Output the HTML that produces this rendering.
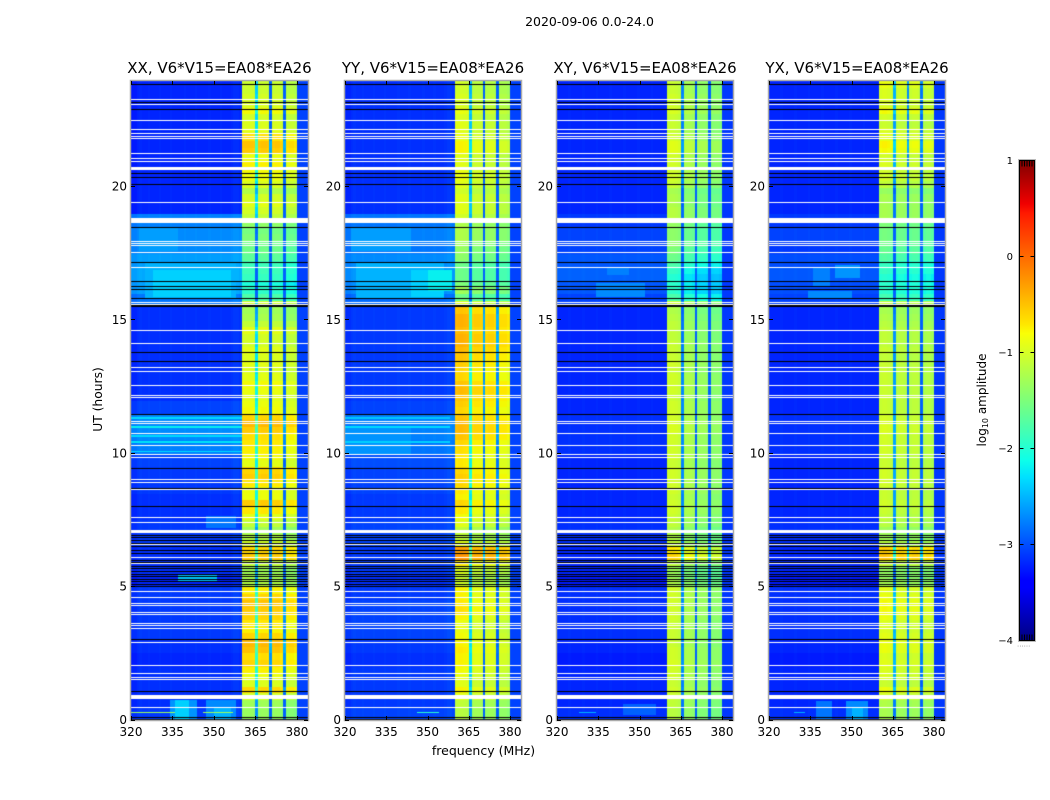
<!DOCTYPE html>
<html>
<head>
<meta charset="utf-8">
<title>2020-09-06 spectrogram</title>
<style>
html,body{margin:0;padding:0;background:#fff;}
#figure{position:relative;width:1050px;height:800px;overflow:hidden;background:#fff;}
canvas{position:absolute;display:block;}
svg{position:absolute;left:0;top:0;}
text{font-family:"DejaVu Sans","Liberation Sans",sans-serif;fill:#000;}
</style>
</head>
<body>
<div id="figure">
<svg id="overlay" width="1050" height="800" viewBox="0 0 1050 800" xmlns="http://www.w3.org/2000/svg">
  <defs>
    <linearGradient id="jet" x1="0" y1="1" x2="0" y2="0">
      <stop offset="0" stop-color="#000080"/>
      <stop offset="0.11" stop-color="#0000ff"/>
      <stop offset="0.125" stop-color="#0000ff"/>
      <stop offset="0.34" stop-color="#00e0ff"/>
      <stop offset="0.375" stop-color="#0dffea"/>
      <stop offset="0.5" stop-color="#7dff7a"/>
      <stop offset="0.64" stop-color="#faff05"/>
      <stop offset="0.66" stop-color="#ffe600"/>
      <stop offset="0.89" stop-color="#ff1a00"/>
      <stop offset="0.91" stop-color="#f00000"/>
      <stop offset="1" stop-color="#800000"/>
    </linearGradient>
  </defs>
  <text x="589.5" y="26" font-size="12.5" text-anchor="middle">2020-09-06 0.0-24.0</text>
  <text x="98" y="399.5" font-size="12.3" text-anchor="middle" transform="rotate(-90 98 399.5)" dominant-baseline="central">UT (hours)</text>
  <text x="483.5" y="755" font-size="12.5" text-anchor="middle">frequency (MHz)</text>
  <g id="colorbar">
    <rect x="1019.5" y="160.5" width="15" height="480" fill="url(#jet)"/>
    <rect x="1019.5" y="160.5" width="15" height="480" fill="none" stroke="#000" stroke-width="1"/>
    <rect x="1018.5" y="159.5" width="17" height="482" fill="none" stroke="#bbb" stroke-width="1"/>
    <text x="982" y="400" font-size="12" text-anchor="middle" transform="rotate(-90 982 400)" dominant-baseline="central">log<tspan font-size="8" dy="3">10</tspan><tspan dy="-3"> amplitude</tspan></text>
    <text x="1017" y="646.5" font-size="7" fill="#888" text-anchor="start" style="fill:#888">......</text>
  </g>
</svg>
</div>
<script>
// ---- data: rows are 0.25 h, amplitude in the occupied band (log10)
const rfiXX = [
 -1.35,-1.35,-1.3,-1.0,-0.6,-0.95,-0.85,-0.75,-0.6,-0.65,-0.5,-0.45,
 -0.6,-0.75,-0.7,-0.6,-0.55,-0.5,-0.6,-0.75,-1.2,-1.25,-1.3,-1.1,
 -0.55,-0.6,-1.0,-1.2,-1.3,-1.1,-0.9,-0.7,-0.55,-0.85,-0.85,-0.7,
 -0.55,-0.6,-0.9,-0.8,-0.75,-0.7,-0.65,-0.55,-0.45,-0.6,-0.8,-0.85,
 -0.9,-0.85,-0.8,-0.9,-0.95,-0.9,-0.95,-0.9,-1.0,-1.0,-0.9,-1.1,
 -1.25,-1.3,-1.0,-1.8,-2.0,-2.1,-1.95,-1.9,-1.9,-1.7,-1.6,-1.6,
 -1.5,-1.55,-1.4,-1.1,-1.0,-0.9,-1.0,-1.2,-0.95,-0.85,-0.8,-0.75,
 -0.85,-0.55,-0.5,-0.65,-0.9,-0.95,-1.0,-0.8,-0.95,-1.0,-1.05,-1.05];
const rfiYY = [
 -1.25,-1.25,-1.2,-1.0,-0.85,-1.0,-0.95,-0.9,-0.85,-0.85,-0.8,-0.85,
 -0.9,-0.95,-0.95,-0.85,-0.75,-0.8,-0.85,-0.85,-1.1,-1.15,-1.05,-0.8,
 -0.35,-0.4,-1.0,-1.2,-1.2,-1.0,-0.9,-0.8,-0.7,-0.85,-0.8,-0.7,
 -0.65,-0.7,-0.8,-0.8,-0.75,-0.7,-0.6,-0.55,-0.55,-0.6,-0.7,-0.65,
 -0.6,-0.55,-0.6,-0.7,-0.7,-0.65,-0.6,-0.55,-0.5,-0.5,-0.55,-0.5,
 -0.5,-0.6,-1.0,-1.7,-1.4,-1.6,-1.7,-1.7,-1.7,-1.5,-1.45,-1.4,
 -1.3,-1.3,-1.3,-1.1,-1.0,-1.0,-1.0,-1.1,-1.0,-0.95,-0.95,-1.0,
 -1.0,-0.85,-0.85,-0.95,-1.0,-1.0,-1.05,-0.95,-1.05,-1.05,-1.1,-1.1];
const rfiXY = [
 -1.35,-1.35,-1.3,-1.25,-1.2,-1.25,-1.2,-1.2,-1.15,-1.2,-1.2,-1.25,
 -1.25,-1.25,-1.25,-1.2,-1.2,-1.2,-1.2,-1.2,-1.4,-1.5,-1.5,-1.3,
 -0.8,-0.9,-1.3,-1.4,-1.4,-1.3,-1.25,-1.2,-1.2,-1.25,-1.2,-1.2,
 -1.2,-1.2,-1.25,-1.2,-1.2,-1.2,-1.2,-1.15,-1.15,-1.2,-1.2,-1.2,
 -1.25,-1.2,-1.2,-1.2,-1.25,-1.2,-1.25,-1.25,-1.25,-1.3,-1.3,-1.3,
 -1.35,-1.4,-1.2,-2.0,-2.2,-2.2,-2.25,-2.15,-2.0,-1.8,-1.7,-1.6,
 -1.6,-1.6,-1.55,-1.35,-1.35,-1.4,-1.4,-1.45,-1.25,-1.2,-1.2,-1.2,
 -1.2,-1.1,-1.1,-1.2,-1.25,-1.25,-1.25,-1.15,-1.2,-1.2,-1.25,-1.25];
const rfiYX = [
 -1.3,-1.3,-1.25,-1.05,-0.9,-1.1,-1.0,-1.0,-0.95,-1.0,-0.9,-0.9,
 -0.95,-1.0,-1.0,-0.9,-0.85,-0.85,-0.9,-0.95,-1.3,-1.4,-1.4,-1.1,
 -0.55,-0.6,-1.2,-1.35,-1.35,-1.2,-1.15,-1.1,-1.05,-1.1,-1.1,-1.05,
 -1.05,-1.05,-1.1,-1.1,-1.05,-1.05,-1.05,-1.0,-1.0,-1.05,-1.1,-1.1,
 -1.1,-1.1,-1.1,-1.1,-1.1,-1.1,-1.15,-1.1,-1.15,-1.15,-1.15,-1.2,
 -1.25,-1.3,-1.1,-1.9,-2.05,-2.05,-2.1,-2.0,-2.0,-1.8,-1.7,-1.65,
 -1.6,-1.6,-1.55,-1.3,-1.3,-1.3,-1.3,-1.4,-1.15,-1.05,-1.05,-1.0,
 -1.05,-0.85,-0.8,-0.95,-1.0,-1.1,-1.05,-0.85,-1.0,-1.0,-1.0,-0.9];

// rows are 0.5 h, background amplitude outside the occupied band (log10)
const lowXX = [
 -3.1,-3.15,-3.15,-3.15,-3.2,-3.15,-3.1,-3.1,-3.1,-3.1,-3.2,-3.15,
 -3.15,-3.1,-3.1,-3.15,-3.15,-3.1,-3.1,-3.05,-2.75,-2.7,-2.7,-3.05,
 -3.15,-3.15,-3.15,-3.15,-3.15,-3.15,-3.15,-2.8,-2.6,-2.55,-2.6,-2.7,
 -2.7,-2.75,-3.2,-3.2,-3.2,-3.2,-3.2,-3.2,-3.2,-3.2,-3.2,-3.2];
const lowYY = [
 -3.05,-3.1,-3.1,-3.1,-3.15,-3.1,-3.05,-3.05,-3.05,-3.1,-3.15,-3.1,
 -3.1,-3.05,-3.05,-3.1,-3.1,-3.05,-3.05,-3.0,-2.8,-2.75,-2.75,-3.05,
 -3.1,-3.1,-3.1,-3.1,-3.1,-3.1,-3.1,-2.85,-2.7,-2.65,-2.7,-2.8,
 -2.75,-2.8,-3.15,-3.15,-3.15,-3.15,-3.15,-3.15,-3.15,-3.15,-3.15,-3.15];
const lowXY = [
 -3.15,-3.2,-3.2,-3.2,-3.25,-3.2,-3.15,-3.15,-3.15,-3.15,-3.25,-3.2,
 -3.2,-3.15,-3.15,-3.2,-3.2,-3.2,-3.2,-3.2,-3.15,-3.15,-3.15,-3.2,
 -3.2,-3.2,-3.2,-3.2,-3.2,-3.2,-3.2,-3.05,-2.95,-2.9,-2.95,-3.05,
 -3.05,-3.1,-3.2,-3.2,-3.2,-3.2,-3.2,-3.2,-3.2,-3.2,-3.2,-3.2];
const lowYX = [
 -3.15,-3.2,-3.2,-3.2,-3.25,-3.2,-3.15,-3.15,-3.15,-3.15,-3.25,-3.2,
 -3.2,-3.15,-3.15,-3.2,-3.2,-3.2,-3.2,-3.2,-3.15,-3.15,-3.15,-3.2,
 -3.2,-3.2,-3.2,-3.2,-3.2,-3.2,-3.2,-3.05,-3.0,-2.95,-3.0,-3.1,
 -3.05,-3.1,-3.2,-3.2,-3.2,-3.2,-3.2,-3.2,-3.2,-3.2,-3.2,-3.2];

// background level of the four channels above the occupied band
const edgeLevels = [-3.05,-3.05,-3.1,-3.1];

// per-channel offsets (320-380 MHz, 1 MHz channels)
const channelsXX = [
 -.05,-.05,0,.02,0,0,.02,0,0,0,.02,0,0,0,.02,0,0,0,0,.02,
 0,0,0,.02,0,0,0,0,.02,0,0,0,.02,0,0,0,.02,.05,.05,.02,
 .02,.03,.03,.02,0,-1.3,0,.03,.03,0,-2.0,0,.02,.02,-.05,-2.0,-.12,-.1,-.1,-.15];
const channelsYY = [
 -.05,-.05,0,.02,0,0,.02,0,0,0,.02,0,0,0,.02,0,0,0,0,.02,
 0,0,0,.02,0,0,0,0,.02,0,0,0,.02,0,0,0,.02,.05,.05,.02,
 .1,.12,.12,.1,.08,-1.4,-.05,-.02,-.02,-.05,-2.0,-.08,-.05,-.05,-.1,-2.0,-.12,-.12,-.12,-.18];
const channelsXY = [
 0,0,0,0,.02,0,0,0,0,.02,0,0,0,0,.02,0,0,0,0,.02,
 0,0,0,0,.02,0,0,0,0,.02,0,0,0,0,.02,0,0,0,0,0,
 .2,.22,.22,.2,.15,-1.5,-.02,0,0,-.05,-1.7,-.15,-.12,-.12,-.15,-1.7,-.2,-.18,-.18,-.22];
const channelsYX = [
 0,0,0,0,.02,0,0,0,0,.02,0,0,0,0,.02,0,0,0,0,.02,
 0,0,0,0,.02,0,0,0,0,.02,0,0,0,0,.02,0,0,0,0,0,
 .05,.08,.08,.05,0,-1.5,-.05,0,0,-.05,-1.7,-.05,0,0,-.05,-1.8,-.1,-.05,-.05,-.12];

// localised features: [hourStart, hourEnd, channelStart, channelEnd, level]
const featuresXX = [
 [0,0.75,14,24,-2.65],[0,0.75,16,21,-2.35],[0,0.75,27,38,-2.7],[0.05,0.5,30,36,-2.5],
 [0.27,0.31,0,16,-1.3],[0.27,0.31,26,37,-1.3],
 [5.2,5.45,17,31,-2.4],[7.2,7.65,27,38,-2.8],
 [15.8,17.2,5,38,-2.5],[15.9,16.9,8,36,-2.35],[17.6,18.5,3,17,-2.6],
 [10.05,10.12,0,40,-2.3],[10.4,10.47,0,40,-2.25],[10.62,10.7,0,40,-2.3],[10.95,11.03,0,40,-2.2],[11.3,11.38,0,40,-2.3]];
const featuresYY = [
 [0.27,0.31,26,34,-2.0],
 [17.6,18.5,2,24,-2.6],[15.8,17.2,4,36,-2.5],[15.9,16.9,24,36,-2.35],[16.1,16.9,30,39,-2.2],
 [10,11,0,24,-2.65],[10.4,10.47,0,38,-2.35],[10.95,11.03,0,38,-2.3],[11.3,11.38,0,38,-2.4]];
const featuresXY = [
 [0.2,0.6,24,36,-2.9],[16.7,17.0,18,26,-2.75],[15.9,16.4,14,32,-2.7],[0.27,0.31,8,14,-2.5]];
const featuresYX = [
 [0,0.7,17,23,-2.8],[0,0.7,28,36,-2.7],[0.05,0.5,30,34,-2.5],
 [16.3,17,16,22,-2.75],[16.6,17.1,24,33,-2.65],[15.8,16.1,14,30,-2.7],[0.27,0.31,9,13,-2.5]];

// flagged rows, in hours
const whiteLines = [
 23.31,23.12,22.52,22.18,22.03,21.93,21.87,21.28,21.09,21.0,19.46,18.0,17.9,17.83,17.56,17.02,
 15.69,15.61,14.63,14.15,13.24,13.1,12.59,12.22,12.13,11.24,11.15,10.79,10.32,9.98,9.89,9.06,
 8.93,8.67,7.61,7.42,6.6,6.11,5.88,4.86,4.63,4.38,4.31,4.07,3.97,3.65,3.58,3.44,2.92,2.08,1.75,
 1.63,1.54,0.48];
const whiteBands = [[20.65,20.78],[18.65,18.86],[7.02,7.13],[0.78,0.93]];
const blackLines = [
 23.88,23.2,22.93,20.53,20.4,20.15,18.5,17.19,16.49,16.31,16.17,15.86,13.81,13.47,11.48,9.45,8.72,8.02,
 6.96,6.86,6.76,6.66,6.53,6.38,6.28,6.01,5.93,5.78,5.7,5.6,5.5,5.41,5.31,5.22,5.12,5.03,3.03,1.08,0.12,0.05];
const blackBands = [[15.5,15.58]];

const panelNames = ['xx','yy','xy','yx'];
const panelTitles = ['XX, V6*V15=EA08*EA26','YY, V6*V15=EA08*EA26','XY, V6*V15=EA08*EA26','YX, V6*V15=EA08*EA26'];
const rfiLevels = [rfiXX,rfiYY,rfiXY,rfiYX];
const lowLevels = [lowXX,lowYY,lowXY,lowYX];
const channelOffsets = [channelsXX,channelsYY,channelsXY,channelsYX];
const features = [featuresXX,featuresYY,featuresXY,featuresYX];
const freqTicks = [320,335,350,365,380];
const timeTicks = [0,5,10,15,20];
const colorTicks = [-4,-3,-2,-1,0,1];
const colorLimits = [-4,1];
const freqLimits = [320,384];
const timeLimits = [0,24];

// ---- layout
const panelLefts = [131,345,557,769];
const panelRights = [308,521,733,945];
const plotTop = 81, plotBottom = 720;
const cbTop = 160.5, cbBottom = 640.5, cbLeft = 1019.5, cbRight = 1034.5;

function xScale(p, mhz){
  return panelLefts[p] + (mhz - freqLimits[0]) / (freqLimits[1] - freqLimits[0]) * (panelRights[p] - panelLefts[p]);
}
function yScale(h){
  return plotBottom - (h - timeLimits[0]) / (timeLimits[1] - timeLimits[0]) * (plotBottom - plotTop);
}
function tickY(h){
  return 719.5 - h * 26.67;
}
function cbScale(v){
  return cbBottom - (v - colorLimits[0]) / (colorLimits[1] - colorLimits[0]) * (cbBottom - cbTop);
}
function ramp(t, pts){
  for (let i = 1; i < pts.length; i++){
    if (t <= pts[i][0]){
      const a = pts[i-1], b = pts[i];
      return a[1] + (t - a[0]) / (b[0] - a[0]) * (b[1] - a[1]);
    }
  }
  return pts[pts.length-1][1];
}
function jet(v){
  const t = Math.max(0, Math.min(1, (v - colorLimits[0]) / (colorLimits[1] - colorLimits[0])));
  const r = ramp(t, [[0,0],[.35,0],[.66,1],[.89,1],[1,.5]]);
  const g = ramp(t, [[0,0],[.125,0],[.375,1],[.64,1],[.91,0],[1,0]]);
  const b = ramp(t, [[0,.5],[.11,1],[.34,1],[.65,0],[1,0]]);
  return 'rgb(' + Math.round(r*255) + ',' + Math.round(g*255) + ',' + Math.round(b*255) + ')';
}

const fig = document.getElementById('figure');
const svg = document.getElementById('overlay');
const NS = 'http://www.w3.org/2000/svg';

function line(x1,y1,x2,y2,stroke){
  const l = document.createElementNS(NS,'line');
  l.setAttribute('x1',x1);
  l.setAttribute('y1',y1);
  l.setAttribute('x2',x2);
  l.setAttribute('y2',y2);
  l.setAttribute('stroke',stroke);
  l.setAttribute('stroke-width','1');
  return l;
}
function label(x,y,str,size,anchor){
  const t = document.createElementNS(NS,'text');
  t.setAttribute('x',x);
  t.setAttribute('y',y);
  t.setAttribute('font-size',size);
  t.setAttribute('text-anchor',anchor);
  t.textContent = str;
  return t;
}

function drawHeatmap(p){
  const left = panelLefts[p], right = panelRights[p];
  const c = document.createElement('canvas');
  
  
  c.id = 'heatmap-' + panelNames[p];
  c.width = right - left;
  c.height = plotBottom - plotTop;
  c.style.left = left + 'px';
  c.style.top = plotTop + 'px';
  fig.insertBefore(c, svg);
  const ctx = c.getContext('2d');
  const rfi = rfiLevels[p], low = lowLevels[p], off = channelOffsets[p];
  const rowStep = (timeLimits[1] - timeLimits[0]) / rfi.length;
  const lowStep = (timeLimits[1] - timeLimits[0]) / low.length;
  const channelCount = freqLimits[1] - freqLimits[0];
  for (let r = 0; r < rfi.length; r++){
    const h0 = r * rowStep, h1 = (r + 1) * rowStep;
    const y0 = Math.round(yScale(h1)) - plotTop, y1 = Math.round(yScale(h0)) - plotTop;
    const lowVal = low[Math.floor(h0 / lowStep)];
    for (let ch = 0; ch < channelCount; ch++){
      let v;
      if (ch >= off.length) v = edgeLevels[p];
      else if (ch >= 40) v = Math.max(rfi[r] + off[ch], -2.9);
      else v = lowVal + off[ch];
      const x0 = Math.round(xScale(p, freqLimits[0] + ch)) - left;
      const x1 = Math.round(xScale(p, freqLimits[0] + ch + 1)) - left;
      ctx.fillStyle = jet(v);
      ctx.fillRect(x0, y0, x1 - x0, y1 - y0);
    }
  }
  features[p].forEach(function(f){
    const x0 = Math.round(xScale(p, freqLimits[0] + f[2])) - left;
    const x1 = Math.round(xScale(p, freqLimits[0] + f[3])) - left;
    const y0 = Math.round(yScale(f[1])) - plotTop;
    const y1 = Math.round(yScale(f[0])) - plotTop;
    ctx.fillStyle = jet(f[4]);
    ctx.fillRect(x0, y0, x1 - x0, Math.max(1, y1 - y0));
  });
  const w = right - left;
  ctx.fillStyle = '#000';
  blackLines.forEach(function(h){
    ctx.fillRect(0, Math.round(yScale(h)) - plotTop, w, 1);
  });
  blackBands.forEach(function(b){
    const y0 = Math.round(yScale(b[1])) - plotTop, y1 = Math.round(yScale(b[0])) - plotTop;
    ctx.fillRect(0, y0, w, y1 - y0);
  });
  ctx.fillStyle = '#fff';
  whiteLines.forEach(function(h){
    ctx.fillRect(0, Math.round(yScale(h)) - plotTop, w, 1);
  });
  whiteBands.forEach(function(b){
    const y0 = Math.round(yScale(b[1])) - plotTop, y1 = Math.round(yScale(b[0])) - plotTop;
    ctx.fillRect(0, y0, w, y1 - y0);
  });
}

function drawAxes(p){
  const g = document.createElementNS(NS,'g');
  
  
  svg.appendChild(g);
  const left = panelLefts[p] - 0.5, right = panelRights[p] + 0.5;
  const top = plotTop - 0.5, bottom = plotBottom + 0.5;
  const frame = document.createElementNS(NS,'rect');
  
  
  frame.setAttribute('x', left);
  frame.setAttribute('y', top);
  frame.setAttribute('width', right - left);
  frame.setAttribute('height', bottom - top);
  frame.setAttribute('fill', 'none');
  frame.setAttribute('stroke', '#aaa');
  frame.setAttribute('stroke-width', '1.5');
  g.appendChild(frame);
  freqTicks.forEach(function(f){
    const x = Math.round(xScale(p,f)) + 0.5;
    const t1 = line(x, plotBottom, x, plotBottom - 4, '#000');
    
    
    g.appendChild(t1);
    const t2 = line(x, plotTop, x, plotTop + 4, '#000');
    
    
    g.appendChild(t2);
    const lab = label(xScale(p,f), 736, String(f), 12, 'middle');
    
    
    g.appendChild(lab);
  });
  timeTicks.forEach(function(h){
    const y = Math.round(tickY(h)) + 0.5;
    const t1 = line(panelLefts[p], y, panelLefts[p] + 4, y, '#000');
    
    
    g.appendChild(t1);
    const t2 = line(panelRights[p], y, panelRights[p] - 4, y, '#000');
    
    
    g.appendChild(t2);
    const lab = label(panelLefts[p] - 4, tickY(h) + 4.5, String(h), 12, 'end');
    
    
    g.appendChild(lab);
  });
  const title = label((panelLefts[p] + panelRights[p]) / 2, 73, panelTitles[p], 15, 'middle');
  
  
  g.appendChild(title);
}

function drawColorbarTicks(){
  const g = document.getElementById('colorbar');
  colorTicks.forEach(function(v){
    const y = cbScale(v);
    const t1 = line(cbLeft, y, cbLeft + 4, y, '#000');
    
    
    g.appendChild(t1);
    const t2 = line(cbRight, y, cbRight - 4, y, '#000');
    
    
    g.appendChild(t2);
    const str = v < 0 ? '\u2212' + Math.abs(v) : String(v);
    const lab = label(1013, y + 3.5, str, 10, 'end');
    
    
    g.appendChild(lab);
  });
  [cbTop, cbBottom].forEach(function(y, i){
    for (let k = 0; k < 5; k++){
      const x = cbLeft + 2.5 + k * 2.5;
      const t = line(x, y, x, i === 0 ? y + 6 : y - 6, '#000');
      
      
      g.appendChild(t);
    }
  });
}

panelNames.forEach(function(n, p){
  drawHeatmap(p);
  drawAxes(p);
});
drawColorbarTicks();
</script>
</body>
</html>
